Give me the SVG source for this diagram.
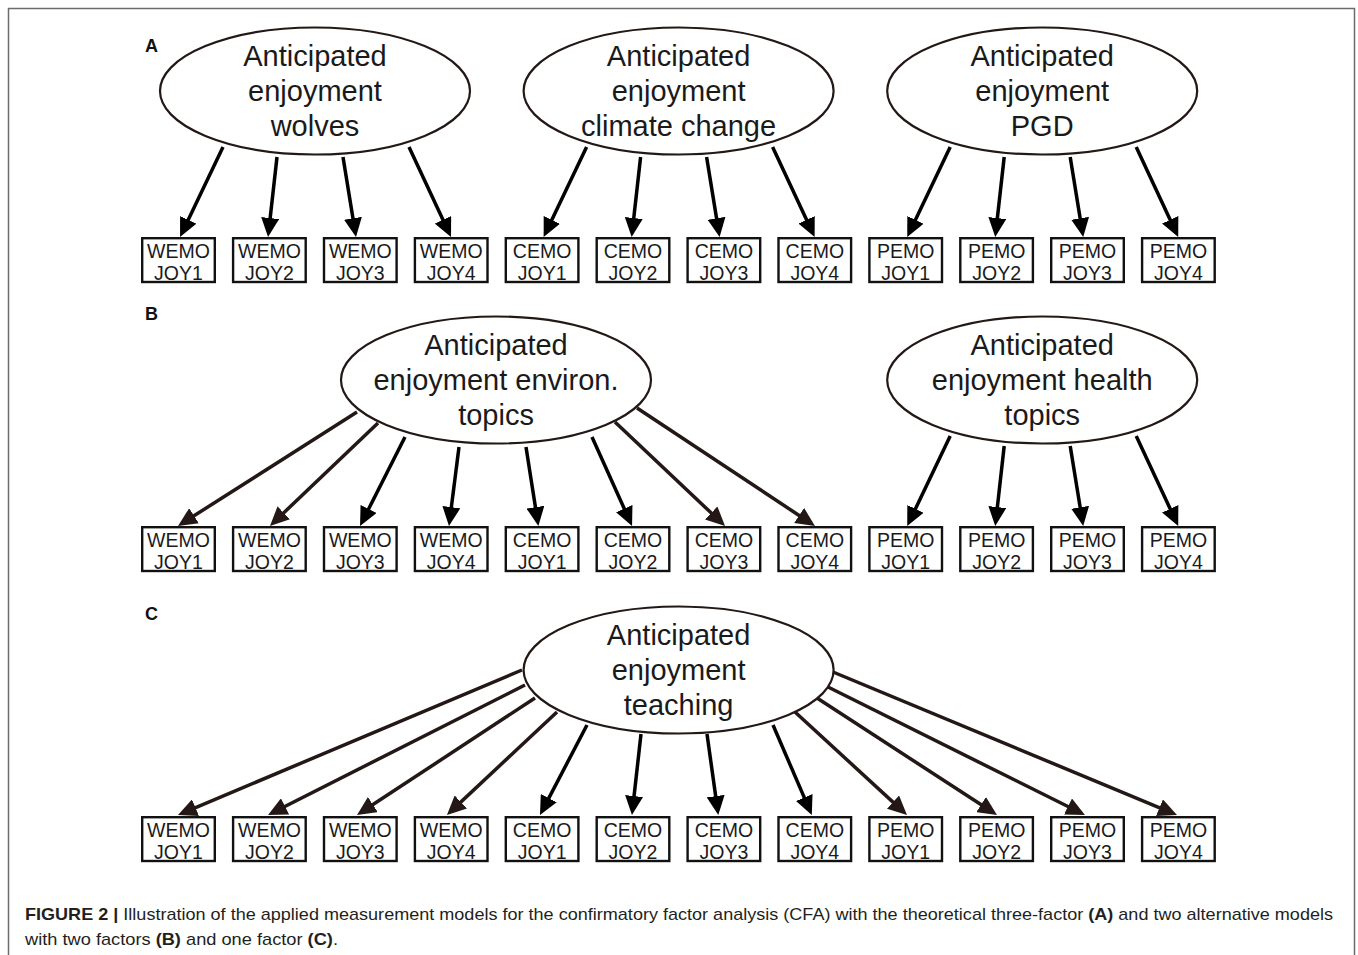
<svg xmlns="http://www.w3.org/2000/svg" width="1358" height="955" viewBox="0 0 1358 955">
<style>
.frame{fill:none;stroke:#6b6b6b;stroke-width:1.5}
.lab{font-family:"Liberation Sans",Arial,sans-serif;font-weight:bold;font-size:18px;fill:#111}
.ell ellipse{fill:#fff;stroke:#231815;stroke-width:2.2}
.ell text{font-family:"Liberation Sans",Arial,sans-serif;font-size:29px;text-anchor:middle;fill:#1a1a1a}
.box rect{fill:#fff;stroke:#111;stroke-width:2.4}
.box text{font-family:"Liberation Sans",Arial,sans-serif;font-size:19.5px;text-anchor:middle;fill:#1a1a1a}
.arr{fill:none;stroke:#000;stroke-width:3.5;marker-end:url(#hk)}
.br{stroke:#231815;marker-end:url(#hb)}
.cap{font-family:"Liberation Sans",Arial,sans-serif;font-size:17px;fill:#231f20}
</style>
<defs>
<marker id="hk" viewBox="0 0 19 18" refX="14" refY="9" markerWidth="19" markerHeight="18" markerUnits="userSpaceOnUse" orient="auto"><path d="M0,0 L19,9 L0,18 Z" fill="#000"/></marker>
<marker id="hb" viewBox="0 0 19 18" refX="14" refY="9" markerWidth="19" markerHeight="18" markerUnits="userSpaceOnUse" orient="auto"><path d="M0,0 L19,9 L0,18 Z" fill="#231815"/></marker>
</defs>
<rect width="1358" height="955" fill="#fff"/>
<path class="frame" d="M8.5,955 V8.5 H1354.5 V955"/>
<text class="lab" x="145" y="52">A</text>
<text class="lab" x="145" y="320">B</text>
<text class="lab" x="145" y="620">C</text>

<g id="connectors">
  <g id="conn-a1">
    <path class="arr" d="M223,147 L182.2,232.5"/>
    <path class="arr" d="M277,157 L268.6,232"/>
    <path class="arr" d="M343,157 L355.2,232.1"/>
    <path class="arr" d="M409,147 L448.9,232.5"/>
  </g>
  <g id="conn-a2" transform="translate(363.6,0)">
    <path class="arr" d="M223,147 L182.2,232.5"/>
    <path class="arr" d="M277,157 L268.6,232"/>
    <path class="arr" d="M343,157 L355.2,232.1"/>
    <path class="arr" d="M409,147 L448.9,232.5"/>
  </g>
  <g id="conn-a3" transform="translate(727.2,0)">
    <path class="arr" d="M223,147 L182.2,232.5"/>
    <path class="arr" d="M277,157 L268.6,232"/>
    <path class="arr" d="M343,157 L355.2,232.1"/>
    <path class="arr" d="M409,147 L448.9,232.5"/>
  </g>
  <g id="conn-b1">
    <path class="arr br" d="M357,412 L182.2,523.3"/>
    <path class="arr br" d="M378,423 L273.6,522.5"/>
    <path class="arr" d="M405,437 L362.3,521.5"/>
    <path class="arr" d="M459,447 L449.6,521"/>
    <path class="arr" d="M526,447 L537.6,521"/>
    <path class="arr" d="M592,437 L630,521.4"/>
    <path class="arr br" d="M615,422 L721.4,522.6"/>
    <path class="arr br" d="M637,408 L810.8,523.2"/>
  </g>
  <g id="conn-b2" transform="translate(727.2,289)">
    <path class="arr" d="M223,147 L182.2,232.5"/>
    <path class="arr" d="M277,157 L268.6,232"/>
    <path class="arr" d="M343,157 L355.2,232.1"/>
    <path class="arr" d="M409,147 L448.9,232.5"/>
  </g>
  <g id="conn-c">
    <path class="arr br" d="M522,670 L182.6,813.1"/>
    <path class="arr br" d="M525,685 L272.5,812.7"/>
    <path class="arr br" d="M535,698 L361.2,812.3"/>
    <path class="arr br" d="M557,712 L450.6,811.6"/>
    <path class="arr" d="M587,725 L542.3,810.6"/>
    <path class="arr" d="M641,734 L632.5,810"/>
    <path class="arr" d="M707,734 L717.6,810"/>
    <path class="arr" d="M773,725 L809.8,810.4"/>
    <path class="arr br" d="M795,712 L903.3,811.6"/>
    <path class="arr br" d="M817,698 L992.8,812.3"/>
    <path class="arr br" d="M828,687 L1080.5,812.8"/>
    <path class="arr br" d="M833,672 L1172.4,813.1"/>
  </g>
</g>

<g id="f-wolves" class="ell" transform="translate(315,91)"><ellipse rx="155" ry="63.5"/><text y="-25">Anticipated</text><text y="10">enjoyment</text><text y="45">wolves</text></g>
<g id="f-climate" class="ell" transform="translate(678.6,91)"><ellipse rx="155" ry="63.5"/><text y="-25">Anticipated</text><text y="10">enjoyment</text><text y="45">climate change</text></g>
<g id="f-pgd" class="ell" transform="translate(1042.2,91)"><ellipse rx="155" ry="63.5"/><text y="-25">Anticipated</text><text y="10">enjoyment</text><text y="45">PGD</text></g>
<g id="f-environ" class="ell" transform="translate(496,380)"><ellipse rx="155" ry="63.5"/><text y="-25">Anticipated</text><text y="10">enjoyment environ.</text><text y="45">topics</text></g>
<g id="f-health" class="ell" transform="translate(1042.2,380)"><ellipse rx="155" ry="63.5"/><text y="-25">Anticipated</text><text y="10">enjoyment health</text><text y="45">topics</text></g>
<g id="f-teaching" class="ell" transform="translate(678.6,670)"><ellipse rx="155" ry="63.5"/><text y="-25">Anticipated</text><text y="10">enjoyment</text><text y="45">teaching</text></g>

<g id="a-wemo1" class="box" transform="translate(141,237)"><rect x="1.2" y="1.2" width="72.6" height="43.8"/><text x="37.5" y="21">WEMO</text><text x="37.5" y="43">JOY1</text></g>
<g id="a-wemo2" class="box" transform="translate(231.9,237)"><rect x="1.2" y="1.2" width="72.6" height="43.8"/><text x="37.5" y="21">WEMO</text><text x="37.5" y="43">JOY2</text></g>
<g id="a-wemo3" class="box" transform="translate(322.8,237)"><rect x="1.2" y="1.2" width="72.6" height="43.8"/><text x="37.5" y="21">WEMO</text><text x="37.5" y="43">JOY3</text></g>
<g id="a-wemo4" class="box" transform="translate(413.7,237)"><rect x="1.2" y="1.2" width="72.6" height="43.8"/><text x="37.5" y="21">WEMO</text><text x="37.5" y="43">JOY4</text></g>
<g id="a-cemo1" class="box" transform="translate(504.6,237)"><rect x="1.2" y="1.2" width="72.6" height="43.8"/><text x="37.5" y="21">CEMO</text><text x="37.5" y="43">JOY1</text></g>
<g id="a-cemo2" class="box" transform="translate(595.5,237)"><rect x="1.2" y="1.2" width="72.6" height="43.8"/><text x="37.5" y="21">CEMO</text><text x="37.5" y="43">JOY2</text></g>
<g id="a-cemo3" class="box" transform="translate(686.4,237)"><rect x="1.2" y="1.2" width="72.6" height="43.8"/><text x="37.5" y="21">CEMO</text><text x="37.5" y="43">JOY3</text></g>
<g id="a-cemo4" class="box" transform="translate(777.3,237)"><rect x="1.2" y="1.2" width="72.6" height="43.8"/><text x="37.5" y="21">CEMO</text><text x="37.5" y="43">JOY4</text></g>
<g id="a-pemo1" class="box" transform="translate(868.2,237)"><rect x="1.2" y="1.2" width="72.6" height="43.8"/><text x="37.5" y="21">PEMO</text><text x="37.5" y="43">JOY1</text></g>
<g id="a-pemo2" class="box" transform="translate(959.1,237)"><rect x="1.2" y="1.2" width="72.6" height="43.8"/><text x="37.5" y="21">PEMO</text><text x="37.5" y="43">JOY2</text></g>
<g id="a-pemo3" class="box" transform="translate(1050,237)"><rect x="1.2" y="1.2" width="72.6" height="43.8"/><text x="37.5" y="21">PEMO</text><text x="37.5" y="43">JOY3</text></g>
<g id="a-pemo4" class="box" transform="translate(1140.9,237)"><rect x="1.2" y="1.2" width="72.6" height="43.8"/><text x="37.5" y="21">PEMO</text><text x="37.5" y="43">JOY4</text></g>

<g id="b-wemo1" class="box" transform="translate(141,526)"><rect x="1.2" y="1.2" width="72.6" height="43.8"/><text x="37.5" y="21">WEMO</text><text x="37.5" y="43">JOY1</text></g>
<g id="b-wemo2" class="box" transform="translate(231.9,526)"><rect x="1.2" y="1.2" width="72.6" height="43.8"/><text x="37.5" y="21">WEMO</text><text x="37.5" y="43">JOY2</text></g>
<g id="b-wemo3" class="box" transform="translate(322.8,526)"><rect x="1.2" y="1.2" width="72.6" height="43.8"/><text x="37.5" y="21">WEMO</text><text x="37.5" y="43">JOY3</text></g>
<g id="b-wemo4" class="box" transform="translate(413.7,526)"><rect x="1.2" y="1.2" width="72.6" height="43.8"/><text x="37.5" y="21">WEMO</text><text x="37.5" y="43">JOY4</text></g>
<g id="b-cemo1" class="box" transform="translate(504.6,526)"><rect x="1.2" y="1.2" width="72.6" height="43.8"/><text x="37.5" y="21">CEMO</text><text x="37.5" y="43">JOY1</text></g>
<g id="b-cemo2" class="box" transform="translate(595.5,526)"><rect x="1.2" y="1.2" width="72.6" height="43.8"/><text x="37.5" y="21">CEMO</text><text x="37.5" y="43">JOY2</text></g>
<g id="b-cemo3" class="box" transform="translate(686.4,526)"><rect x="1.2" y="1.2" width="72.6" height="43.8"/><text x="37.5" y="21">CEMO</text><text x="37.5" y="43">JOY3</text></g>
<g id="b-cemo4" class="box" transform="translate(777.3,526)"><rect x="1.2" y="1.2" width="72.6" height="43.8"/><text x="37.5" y="21">CEMO</text><text x="37.5" y="43">JOY4</text></g>
<g id="b-pemo1" class="box" transform="translate(868.2,526)"><rect x="1.2" y="1.2" width="72.6" height="43.8"/><text x="37.5" y="21">PEMO</text><text x="37.5" y="43">JOY1</text></g>
<g id="b-pemo2" class="box" transform="translate(959.1,526)"><rect x="1.2" y="1.2" width="72.6" height="43.8"/><text x="37.5" y="21">PEMO</text><text x="37.5" y="43">JOY2</text></g>
<g id="b-pemo3" class="box" transform="translate(1050,526)"><rect x="1.2" y="1.2" width="72.6" height="43.8"/><text x="37.5" y="21">PEMO</text><text x="37.5" y="43">JOY3</text></g>
<g id="b-pemo4" class="box" transform="translate(1140.9,526)"><rect x="1.2" y="1.2" width="72.6" height="43.8"/><text x="37.5" y="21">PEMO</text><text x="37.5" y="43">JOY4</text></g>

<g id="c-wemo1" class="box" transform="translate(141,816)"><rect x="1.2" y="1.2" width="72.6" height="43.8"/><text x="37.5" y="21">WEMO</text><text x="37.5" y="43">JOY1</text></g>
<g id="c-wemo2" class="box" transform="translate(231.9,816)"><rect x="1.2" y="1.2" width="72.6" height="43.8"/><text x="37.5" y="21">WEMO</text><text x="37.5" y="43">JOY2</text></g>
<g id="c-wemo3" class="box" transform="translate(322.8,816)"><rect x="1.2" y="1.2" width="72.6" height="43.8"/><text x="37.5" y="21">WEMO</text><text x="37.5" y="43">JOY3</text></g>
<g id="c-wemo4" class="box" transform="translate(413.7,816)"><rect x="1.2" y="1.2" width="72.6" height="43.8"/><text x="37.5" y="21">WEMO</text><text x="37.5" y="43">JOY4</text></g>
<g id="c-cemo1" class="box" transform="translate(504.6,816)"><rect x="1.2" y="1.2" width="72.6" height="43.8"/><text x="37.5" y="21">CEMO</text><text x="37.5" y="43">JOY1</text></g>
<g id="c-cemo2" class="box" transform="translate(595.5,816)"><rect x="1.2" y="1.2" width="72.6" height="43.8"/><text x="37.5" y="21">CEMO</text><text x="37.5" y="43">JOY2</text></g>
<g id="c-cemo3" class="box" transform="translate(686.4,816)"><rect x="1.2" y="1.2" width="72.6" height="43.8"/><text x="37.5" y="21">CEMO</text><text x="37.5" y="43">JOY3</text></g>
<g id="c-cemo4" class="box" transform="translate(777.3,816)"><rect x="1.2" y="1.2" width="72.6" height="43.8"/><text x="37.5" y="21">CEMO</text><text x="37.5" y="43">JOY4</text></g>
<g id="c-pemo1" class="box" transform="translate(868.2,816)"><rect x="1.2" y="1.2" width="72.6" height="43.8"/><text x="37.5" y="21">PEMO</text><text x="37.5" y="43">JOY1</text></g>
<g id="c-pemo2" class="box" transform="translate(959.1,816)"><rect x="1.2" y="1.2" width="72.6" height="43.8"/><text x="37.5" y="21">PEMO</text><text x="37.5" y="43">JOY2</text></g>
<g id="c-pemo3" class="box" transform="translate(1050,816)"><rect x="1.2" y="1.2" width="72.6" height="43.8"/><text x="37.5" y="21">PEMO</text><text x="37.5" y="43">JOY3</text></g>
<g id="c-pemo4" class="box" transform="translate(1140.9,816)"><rect x="1.2" y="1.2" width="72.6" height="43.8"/><text x="37.5" y="21">PEMO</text><text x="37.5" y="43">JOY4</text></g>

<g id="caption">
<text class="cap" x="25" y="920" textLength="1308" lengthAdjust="spacingAndGlyphs"><tspan font-weight="bold">FIGURE 2 |</tspan> Illustration of the applied measurement models for the confirmatory factor analysis (CFA) with the theoretical three-factor <tspan font-weight="bold">(A)</tspan> and two alternative models</text>
<text class="cap" x="25" y="945" textLength="313" lengthAdjust="spacingAndGlyphs">with two factors <tspan font-weight="bold">(B)</tspan> and one factor <tspan font-weight="bold">(C)</tspan>.</text>
</g>
</svg>
